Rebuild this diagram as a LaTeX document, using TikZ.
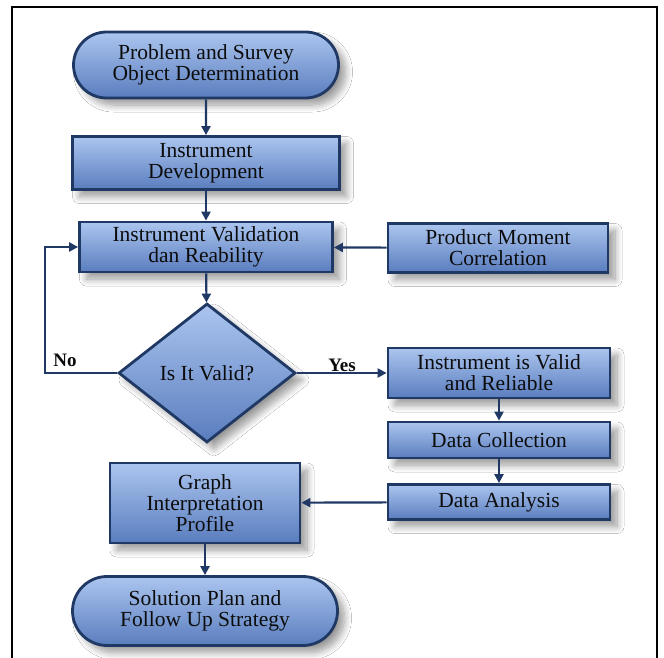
\documentclass[tikz,border=0pt]{standalone}
\usepackage{fontspec}
\setmainfont{Liberation Serif}
\usetikzlibrary{shapes.misc,shapes.geometric,arrows.meta,shadows.blur}
\definecolor{edgeblue}{HTML}{1F3864}
\definecolor{topblue}{HTML}{ABC5EF}
\definecolor{botblue}{HTML}{5A7DBE}
\definecolor{txt}{HTML}{0C0C0C}
\tikzset{
  boxbase/.style={draw=edgeblue, line width=2.8pt, top color=topblue, bottom color=botblue,
    text=txt, align=center, inner sep=1pt, font=\fontsize{21.5}{21}\selectfont,
    blur shadow={shadow blur steps=10, shadow xshift=7pt, shadow yshift=-7pt, shadow opacity=40, shadow blur radius=7pt}},
  procbox/.style={boxbase, rectangle},
  termbox/.style={boxbase, rounded rectangle},
  decbox/.style={boxbase, diamond, aspect=1.27, inner sep=0pt},
  flow/.style={draw=edgeblue, line width=2.2pt, -{Triangle[length=9pt,width=9pt]}},
  lbl/.style={font=\fontsize{19}{19}\selectfont\bfseries, text=txt}
}
\begin{document}
\begin{tikzpicture}[x=1pt,y=-1pt]
\useasboundingbox (0,0) rectangle (664,658);
\fill[white] (0,0) rectangle (664,658);
\draw[black, line width=2pt] (12,662) -- (12,7) -- (657,7) -- (657,662);

\node[termbox, minimum width=267pt, minimum height=66pt] (start) at (206,65) {Problem and Survey\\Object Determination};
\node[procbox, minimum width=267pt, minimum height=53pt] (dev) at (206,163) {Instrument\\Development};
\node[procbox, minimum width=253pt, minimum height=50pt] (valid) at (206,247) {Instrument Validation\\dan Reability};
\node[procbox, minimum width=220pt, minimum height=49pt] (pmc) at (498,248) {Product Moment\\Correlation};
\node[decbox, minimum width=177pt, minimum height=139pt] (dia) at (207,373) {Is It Valid?};
\node[procbox, minimum width=222pt, minimum height=50pt] (ok) at (499,373) {Instrument is Valid\\and Reliable};
\node[procbox, minimum width=222pt, minimum height=36pt] (coll) at (499,440) {Data Collection};
\node[procbox, minimum width=222pt, minimum height=35pt] (anal) at (499,502) {Data Analysis};
\node[procbox, minimum width=190pt, minimum height=80pt] (graph) at (205,503) {Graph\\Interpretation\\Profile};
\node[termbox, minimum width=267pt, minimum height=69pt] (end) at (205,611) {Solution Plan and\\Follow Up Strategy};

\coordinate (loop) at (45,373);
\draw[flow] (start) -- (dev);
\draw[flow] (dev) -- (valid);
\draw[flow] (pmc) -- (valid);
\draw[flow] (valid) -- (dia);
\draw[flow] (dia.west) -- (loop) |- (valid.west);
\draw[flow] (dia.east) -- (ok.west);
\draw[flow] (ok) -- (coll);
\draw[flow] (coll) -- (anal);
\draw[flow] (anal) -- (graph);
\draw[flow] (graph) -- (end);

\node[lbl] (no) at (65,360) {No};
\node[lbl] (yes) at (342,365) {Yes};
\end{tikzpicture}
\end{document}
